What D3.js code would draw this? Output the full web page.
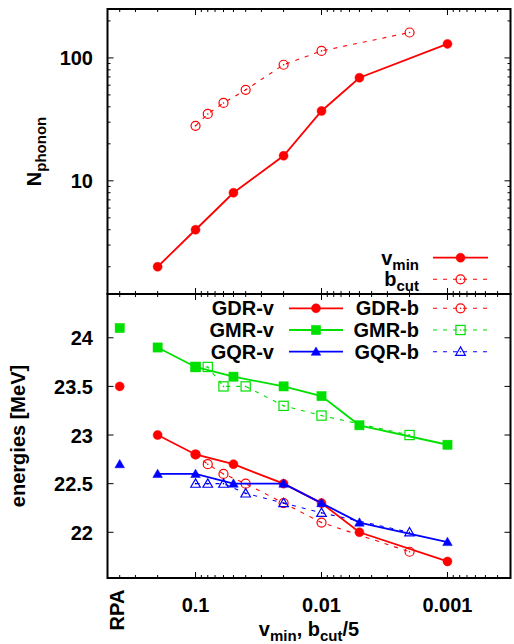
<!DOCTYPE html>
<html>
<head>
<meta charset="utf-8">
<script src="https://cdn.jsdelivr.net/npm/d3@7"></script>
<style>
  html, body { margin: 0; padding: 0; background: #fff; }
  svg { display: block; }
  text { font-family: "Liberation Sans", Arial, Helvetica, sans-serif; font-weight: bold; fill: #000; }
</style>
</head>
<body>
<svg id="chart" width="514" height="644"></svg>
<script>
// ---------------- data ----------------
const vmin   = [0.2, 0.1, 0.05, 0.02, 0.01, 0.005, 0.001];
const bcut5  = [0.1, 0.08, 0.06, 0.04, 0.02, 0.01, 0.002];
const nphononV = [2, 4, 8, 16, 37, 69, 130];
const nphononB = [28, 35, 43, 55, 88, 114, 161];

const rpaX = 0.4;
const rpaGDR = 23.5, rpaGMR = 24.1, rpaGQR = 22.7;

const gdrV = [23.0, 22.8, 22.7, 22.5, 22.3, 22.0, 21.7];
const gmrV = [23.9, 23.7, 23.6, 23.5, 23.4, 23.1, 22.9];
const gqrV = [22.6, 22.6, 22.5, 22.5, 22.3, 22.1, 21.9];
const gdrB = [22.8, 22.7, 22.6, 22.5, 22.3, 22.1, 21.8];
const gmrB = [23.7, 23.7, 23.5, 23.5, 23.3, 23.2, 23.0];
const gqrB = [22.5, 22.5, 22.5, 22.4, 22.3, 22.2, 22.0];

const xTickVals = [0.1, 0.01, 0.001];
const xTickLabels = ["0.1", "0.01", "0.001"];
const yTopTickVals = [10, 100];
const yTopTickLabels = ["10", "100"];
const yBotTickVals = [22, 22.5, 23, 23.5, 24];
const yBotTickLabels = ["22", "22.5", "23", "23.5", "24"];

// ---------------- layout ----------------
const L = 107.5, R = 510.5, T = 9, M = 294, B = 578;
const RED = "#ff0000", GREEN = "#00e000", BLUE = "#0000ff";

const svg = d3.select("#chart");
const x = d3.scaleLog().domain([0.5, 0.000316]).range([L, R]);
const yTop = d3.scaleLog().domain([1.2, 250]).range([M, T]);
const yBot = d3.scaleLinear().domain([21.53, 24.45]).range([B, M]);

// minor tick values for log x
const xMinor = [];
[0.1, 0.01, 0.001, 0.0001].forEach(d => { for (let k = 2; k <= 9; k++) { const v = d * k; if (v <= 0.5 && v >= 0.000316) xMinor.push(v); } });
const yMinor = [];
[1, 10, 100].forEach(d => { for (let k = 2; k <= 9; k++) { const v = d * k; if (v >= 1.2 && v <= 250) yMinor.push(v); } });

const MAJ = 6, MIN = 3;
const tickG = svg.append("g").attr("stroke", "#000").attr("stroke-width", 1);

function xTicks(yEdgeTop, yEdgeBot) {
  xTickVals.forEach(v => {
    tickG.append("line").attr("x1", x(v)).attr("x2", x(v)).attr("y1", yEdgeTop).attr("y2", yEdgeTop + MAJ);
    tickG.append("line").attr("x1", x(v)).attr("x2", x(v)).attr("y1", yEdgeBot).attr("y2", yEdgeBot - MAJ);
  });
  xMinor.forEach(v => {
    tickG.append("line").attr("x1", x(v)).attr("x2", x(v)).attr("y1", yEdgeTop).attr("y2", yEdgeTop + MIN);
    tickG.append("line").attr("x1", x(v)).attr("x2", x(v)).attr("y1", yEdgeBot).attr("y2", yEdgeBot - MIN);
  });
}
xTicks(T, M);
xTicks(M, B);

function yTicks(scale, vals, len) {
  vals.forEach(v => {
    tickG.append("line").attr("x1", L).attr("x2", L + len).attr("y1", scale(v)).attr("y2", scale(v));
    tickG.append("line").attr("x1", R).attr("x2", R - len).attr("y1", scale(v)).attr("y2", scale(v));
  });
}
yTicks(yTop, yTopTickVals, MAJ);
yTicks(yTop, yMinor, MIN);
yTicks(yBot, yBotTickVals, MAJ);

// tick labels
const FS = 20;
yTopTickVals.forEach((v, i) => {
  svg.append("text").attr("x", 93).attr("y", yTop(v) + 7.5).attr("text-anchor", "end")
    .attr("font-size", FS).text(yTopTickLabels[i]);
});
yBotTickVals.forEach((v, i) => {
  svg.append("text").attr("x", 93).attr("y", yBot(v) + 7.5).attr("text-anchor", "end")
    .attr("font-size", FS).text(yBotTickLabels[i]);
});
xTickVals.forEach((v, i) => {
  svg.append("text").attr("x", x(v)).attr("y", 612).attr("text-anchor", "middle")
    .attr("font-size", FS).text(xTickLabels[i]);
});
// RPA label (rotated)
svg.append("text").attr("transform", `translate(${x(rpaX) + 4},610) rotate(-90)`)
  .attr("text-anchor", "middle").attr("font-size", FS).text("RPA");

// axis titles
function subText(g, parts, anchor) {
  const t = g.append("text").attr("text-anchor", anchor || "middle").attr("font-size", FS);
  parts.forEach(p => {
    const s = t.append("tspan").text(p.t);
    if (p.sub) s.attr("font-size", 15).attr("dy", 5);
    else if (p.back) s.attr("dy", -5);
  });
  return t;
}
const xt = subText(svg, [{t: "v"}, {t: "min", sub: true}, {t: ", b", back: true}, {t: "cut", sub: true}, {t: "/5", back: true}]);
xt.attr("x", (L + R) / 2).attr("y", 636);

const yt1 = subText(svg.append("g").attr("transform", `translate(41,${(T + M) / 2}) rotate(-90)`),
  [{t: "N"}, {t: "phonon", sub: true}]);
svg.append("text").attr("transform", `translate(25,${(M + B) / 2}) rotate(-90)`)
  .attr("text-anchor", "middle").attr("font-size", FS).text("energies [MeV]");

// ---------------- markers ----------------
function marker(g, type, cx, cy, color, filled) {
  if (type === "circle") {
    g.append("circle").attr("cx", cx).attr("cy", cy).attr("r", 4.5)
      .attr("fill", filled ? color : "none").attr("stroke", color).attr("stroke-width", filled ? 0.5 : 1.2);
  } else if (type === "square") {
    g.append("rect").attr("x", cx - 4.6).attr("y", cy - 4.6).attr("width", 9.2).attr("height", 9.2)
      .attr("fill", filled ? color : "none").attr("stroke", color).attr("stroke-width", filled ? 0.5 : 1.2);
  } else if (type === "tri") {
    const h = 4.8;
    g.append("path").attr("d", `M${cx},${cy - h}L${cx + h},${cy + h * 0.75}L${cx - h},${cy + h * 0.75}Z`)
      .attr("fill", filled ? color : "none").attr("stroke", color).attr("stroke-width", filled ? 0.5 : 1.2);
  }
  if (!filled) g.append("circle").attr("cx", cx).attr("cy", cy).attr("r", 0.8).attr("fill", color);
}

function series(xs, ys, yScale, color, type, filled, dashed) {
  const g = svg.append("g");
  const line = d3.line().x((d, i) => x(xs[i])).y(d => yScale(d));
  g.append("path").attr("d", line(ys)).attr("fill", "none").attr("stroke", color)
    .attr("stroke-width", dashed ? 1.1 : 1.8)
    .attr("stroke-dasharray", dashed ? "4,6" : null);
  ys.forEach((v, i) => marker(g, type, x(xs[i]), yScale(v), color, filled));
}

// top panel
series(vmin, nphononV, yTop, RED, "circle", true, false);
series(bcut5, nphononB, yTop, RED, "circle", false, true);

// bottom panel
series(vmin, gdrV, yBot, RED, "circle", true, false);
series(bcut5, gdrB, yBot, RED, "circle", false, true);
series(vmin, gmrV, yBot, GREEN, "square", true, false);
series(bcut5, gmrB, yBot, GREEN, "square", false, true);
series(vmin, gqrV, yBot, BLUE, "tri", true, false);
series(bcut5, gqrB, yBot, BLUE, "tri", false, true);

const rg = svg.append("g");
marker(rg, "circle", x(rpaX), yBot(rpaGDR), RED, true);
marker(rg, "square", x(rpaX), yBot(rpaGMR), GREEN, true);
marker(rg, "tri", x(rpaX), yBot(rpaGQR), BLUE, true);

// ---------------- legends ----------------
function legendEntry(textParts, tx, lx1, lx2, ly, color, type, filled, dashed) {
  const g = svg.append("g");
  const t = subText(g, textParts, "end");
  t.attr("x", tx).attr("y", ly + 7);
  g.append("line").attr("x1", lx1).attr("x2", lx2).attr("y1", ly).attr("y2", ly)
    .attr("stroke", color).attr("stroke-width", dashed ? 1.1 : 1.8)
    .attr("stroke-dasharray", dashed ? "4,6" : null);
  marker(g, type, (lx1 + lx2) / 2, ly, color, filled);
}
legendEntry([{t: "v"}, {t: "min", sub: true}], 419, 433, 488, 257.7, RED, "circle", true, false);
legendEntry([{t: "b"}, {t: "cut", sub: true}], 419, 433, 488, 279.3, RED, "circle", false, true);

const rows = [308.3, 330, 351.7];
legendEntry([{t: "GDR-v"}], 274, 289, 343, rows[0], RED, "circle", true, false);
legendEntry([{t: "GMR-v"}], 274, 289, 343, rows[1], GREEN, "square", true, false);
legendEntry([{t: "GQR-v"}], 274, 289, 343, rows[2], BLUE, "tri", true, false);
legendEntry([{t: "GDR-b"}], 419, 433, 488, rows[0], RED, "circle", false, true);
legendEntry([{t: "GMR-b"}], 419, 433, 488, rows[1], GREEN, "square", false, true);
legendEntry([{t: "GQR-b"}], 419, 433, 488, rows[2], BLUE, "tri", false, true);

// ---------------- frames ----------------
svg.append("rect").attr("x", L).attr("y", T).attr("width", R - L).attr("height", M - T)
  .attr("fill", "none").attr("stroke", "#000").attr("stroke-width", 2);
svg.append("rect").attr("x", L).attr("y", M).attr("width", R - L).attr("height", B - M)
  .attr("fill", "none").attr("stroke", "#000").attr("stroke-width", 2);
</script>
</body>
</html>
